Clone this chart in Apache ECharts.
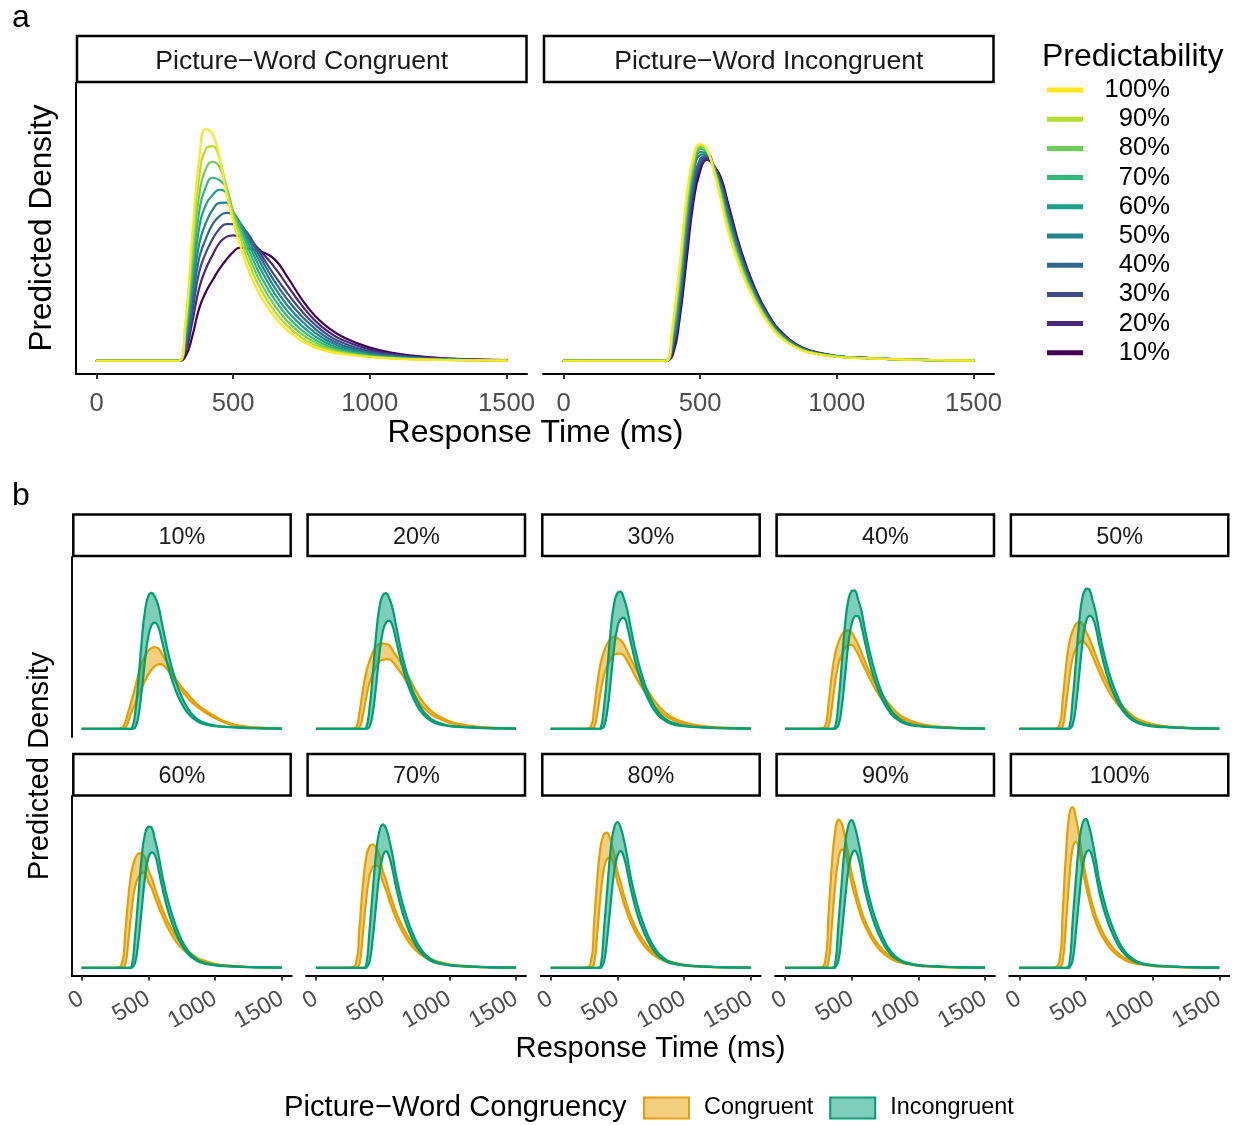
<!DOCTYPE html>
<html>
<head>
<meta charset="utf-8">
<script src="https://cdn.jsdelivr.net/npm/echarts@6/dist/echarts.min.js"></script>
<style>
  html, body { margin: 0; padding: 0; background: #ffffff; }
  #chart { width: 1234px; height: 1125px; }
</style>
</head>
<body>
<div id="chart"></div>
<script>
// Response-time grid (ms) on which every predicted density is sampled
const rtGrid = [0, 250, 300, 325, 350, 375, 400, 425, 450, 475, 500, 525, 550, 575, 600, 650, 700, 750, 800, 850, 900, 1000, 1100, 1200, 1300, 1400, 1500];
const rtTicks = [0, 500, 1000, 1500];
const predictability = ['10%', '20%', '30%', '40%', '50%', '60%', '70%', '80%', '90%', '100%'];
const congruency = ['Congruent', 'Incongruent'];
const facetTitlesA = ['Picture\u2212Word Congruent', 'Picture\u2212Word Incongruent'];
const viridis = ['#440154', '#482878', '#3E4A89', '#31688E', '#26828E', '#1F9E89', '#35B779', '#6DCD59', '#B4DE2C', '#FDE725'];

// Mean predicted density (x 1e-3 per ms), rows ordered 10% ... 100%
const congruentMean = [
  [0,0,0,0.1,0.6,1.3,1.72,2.02,2.3,2.53,2.72,2.83,2.81,2.78,2.74,2.55,2.08,1.55,1.12,0.82,0.6,0.33,0.18,0.1,0.055,0.03,0.015],
  [0,0,0,0.2,0.95,1.8,2.3,2.65,2.95,3.1,3.14,3.12,3.08,2.93,2.75,2.35,1.87,1.4,1.0,0.72,0.52,0.28,0.15,0.085,0.047,0.026,0.014],
  [0,0,0,0.28,1.2,2.2,2.7,3.05,3.3,3.42,3.42,3.35,3.22,2.95,2.68,2.15,1.68,1.25,0.9,0.63,0.45,0.23,0.13,0.07,0.04,0.022,0.012],
  [0,0,0,0.37,1.42,2.55,3.05,3.42,3.62,3.7,3.66,3.45,3.2,2.88,2.58,2.0,1.52,1.12,0.8,0.55,0.39,0.2,0.11,0.06,0.033,0.019,0.011],
  [0,0,0,0.46,1.65,2.9,3.45,3.78,3.95,3.96,3.72,3.45,3.12,2.78,2.45,1.85,1.37,1.0,0.7,0.48,0.34,0.17,0.09,0.05,0.029,0.017,0.01],
  [0,0,0,0.55,1.9,3.3,3.9,4.15,4.28,4.2,3.73,3.42,3.02,2.65,2.3,1.7,1.23,0.88,0.61,0.42,0.29,0.15,0.08,0.044,0.025,0.015,0.009],
  [0,0,0,0.65,2.2,3.7,4.35,4.58,4.52,4.32,3.72,3.35,2.9,2.5,2.13,1.55,1.1,0.77,0.53,0.36,0.25,0.13,0.07,0.038,0.022,0.013,0.008],
  [0,0,0,0.75,2.5,4.1,4.8,4.98,4.85,4.38,3.7,3.25,2.75,2.33,1.97,1.4,0.98,0.67,0.46,0.31,0.22,0.11,0.06,0.034,0.02,0.012,0.007],
  [0,0,0,0.85,2.8,4.55,5.3,5.37,5.05,4.32,3.62,3.1,2.58,2.15,1.8,1.25,0.86,0.58,0.39,0.27,0.19,0.1,0.055,0.03,0.018,0.011,0.006],
  [0,0,0,0.96,3.1,5.0,5.8,5.67,5.08,4.2,3.5,2.9,2.38,1.96,1.63,1.11,0.75,0.5,0.33,0.23,0.17,0.09,0.05,0.028,0.016,0.01,0.006]
];
const incongruentMean = [
  [0,0,0,0,0,0,0.15,1.05,2.5,3.95,4.75,5.03,4.88,4.6,4.0,2.75,1.82,1.15,0.7,0.42,0.26,0.12,0.075,0.045,0.025,0.014,0.007],
  [0,0,0,0,0,0,0.23,1.2,2.75,4.15,4.85,5.06,4.88,4.54,3.92,2.69,1.78,1.12,0.68,0.41,0.25,0.12,0.073,0.044,0.025,0.014,0.007],
  [0,0,0,0,0,0,0.32,1.35,3.0,4.3,4.95,5.1,4.87,4.48,3.83,2.63,1.74,1.1,0.66,0.4,0.24,0.115,0.072,0.043,0.024,0.013,0.007],
  [0,0,0,0,0,0,0.4,1.5,3.2,4.45,5.05,5.13,4.86,4.42,3.75,2.57,1.7,1.07,0.65,0.39,0.24,0.115,0.071,0.043,0.024,0.013,0.007],
  [0,0,0,0,0,0,0.48,1.65,3.35,4.6,5.15,5.17,4.85,4.36,3.67,2.51,1.67,1.05,0.63,0.38,0.23,0.11,0.07,0.042,0.023,0.013,0.007],
  [0,0,0,0,0,0,0.57,1.8,3.5,4.7,5.22,5.2,4.83,4.3,3.6,2.46,1.64,1.02,0.61,0.37,0.22,0.11,0.069,0.042,0.023,0.013,0.006],
  [0,0,0,0,0,0,0.66,1.95,3.65,4.8,5.3,5.22,4.82,4.24,3.52,2.4,1.6,1.0,0.6,0.36,0.22,0.11,0.068,0.041,0.023,0.012,0.006],
  [0,0,0,0,0,0,0.75,2.1,3.8,4.9,5.35,5.25,4.8,4.18,3.45,2.35,1.57,0.98,0.58,0.35,0.21,0.105,0.067,0.041,0.022,0.012,0.006],
  [0,0,0,0,0,0,0.85,2.25,3.95,5.0,5.4,5.27,4.78,4.12,3.37,2.3,1.53,0.95,0.56,0.34,0.21,0.1,0.066,0.04,0.022,0.012,0.006],
  [0,0,0,0,0,0,0.95,2.4,4.1,5.1,5.42,5.28,4.75,4.05,3.3,2.25,1.5,0.93,0.55,0.33,0.2,0.1,0.065,0.04,0.022,0.012,0.006]
];

// Credible-interval bounds of the predicted density, rows ordered 10% ... 100%
const congruentLower = [
  [0,0,0,0.02,0.3,0.7,1.0,1.35,1.65,1.95,2.2,2.4,2.53,2.61,2.62,2.35,1.95,1.57,1.22,0.97,0.76,0.43,0.2,0.09,0.045,0.022,0.01],
  [0,0,0,0.04,0.51,1.23,1.83,2.22,2.51,2.71,2.79,2.81,2.81,2.7,2.53,2.16,1.7,1.27,0.9,0.65,0.47,0.25,0.133,0.075,0.042,0.023,0.012],
  [0,0,0,0.05,0.66,1.51,2.18,2.56,2.83,2.99,3.04,3.04,2.96,2.74,2.49,1.98,1.54,1.13,0.81,0.56,0.4,0.2,0.115,0.062,0.035,0.019,0.01],
  [0,0,0,0.07,0.83,1.84,2.6,3.0,3.26,3.39,3.41,3.24,3.0,2.71,2.43,1.88,1.4,1.02,0.72,0.49,0.35,0.18,0.098,0.054,0.03,0.017,0.01],
  [0,0,0,0.08,0.95,2.05,2.86,3.25,3.48,3.56,3.42,3.24,2.93,2.61,2.3,1.72,1.26,0.91,0.63,0.43,0.3,0.15,0.08,0.045,0.026,0.015,0.009],
  [0,0,0,0.1,1.11,2.37,3.28,3.66,3.84,3.86,3.47,3.21,2.84,2.49,2.16,1.58,1.12,0.8,0.55,0.38,0.26,0.135,0.072,0.04,0.022,0.013,0.008],
  [0,0,0,0.13,1.3,2.69,3.67,4.08,4.15,4.04,3.5,3.15,2.73,2.35,2.0,1.44,1.01,0.7,0.48,0.32,0.22,0.115,0.062,0.034,0.02,0.012,0.007],
  [0,0,0,0.15,1.47,2.98,4.02,4.42,4.47,4.12,3.48,3.05,2.58,2.19,1.85,1.3,0.9,0.61,0.41,0.28,0.2,0.1,0.054,0.031,0.018,0.011,0.006],
  [0,0,0,0.18,1.62,3.27,4.38,4.79,4.67,4.06,3.4,2.91,2.43,2.02,1.69,1.17,0.79,0.53,0.35,0.24,0.17,0.09,0.05,0.027,0.016,0.01,0.005],
  [0,0,0,0.25,1.76,3.6,4.84,5.1,4.72,3.95,3.3,2.73,2.23,1.83,1.51,1.02,0.68,0.45,0.29,0.2,0.15,0.08,0.044,0.024,0.014,0.009,0.005]
];
const congruentUpper = [
  [0,0,0.03,0.25,0.7,1.15,1.65,2.2,2.65,2.95,3.15,3.27,3.31,3.25,3.05,2.57,2.07,1.68,1.38,1.07,0.85,0.5,0.24,0.12,0.06,0.03,0.015],
  [0,0,0.06,0.63,1.51,2.26,2.72,3.08,3.33,3.43,3.45,3.43,3.38,3.16,2.97,2.54,2.04,1.54,1.1,0.8,0.58,0.31,0.167,0.095,0.052,0.029,0.016],
  [0,0,0.08,0.8,1.85,2.66,3.13,3.45,3.65,3.72,3.68,3.58,3.41,3.13,2.84,2.3,1.8,1.36,0.99,0.7,0.5,0.26,0.145,0.078,0.045,0.025,0.014],
  [0,0,0.1,0.97,2.14,3.02,3.49,3.8,3.95,3.98,3.9,3.66,3.39,3.05,2.73,2.12,1.64,1.22,0.88,0.61,0.43,0.22,0.122,0.066,0.036,0.021,0.012],
  [0,0,0.13,1.16,2.49,3.48,3.96,4.23,4.33,4.25,3.94,3.66,3.31,2.95,2.6,1.98,1.48,1.09,0.77,0.53,0.37,0.19,0.1,0.055,0.032,0.019,0.011],
  [0,0,0.15,1.34,2.85,3.94,4.41,4.62,4.64,4.45,3.95,3.63,3.2,2.81,2.44,1.82,1.33,0.96,0.67,0.46,0.32,0.165,0.088,0.048,0.028,0.017,0.01],
  [0,0,0.18,1.57,3.25,4.43,4.91,5.0,4.86,4.55,3.94,3.55,3.07,2.65,2.26,1.66,1.19,0.84,0.58,0.39,0.27,0.14,0.077,0.042,0.024,0.014,0.009],
  [0,0,0.2,1.8,3.65,4.92,5.41,5.47,5.14,4.64,3.92,3.45,2.92,2.47,2.09,1.5,1.06,0.73,0.5,0.34,0.24,0.12,0.066,0.037,0.022,0.013,0.008],
  [0,0,0.22,2.03,4.08,5.47,6.0,5.83,5.3,4.58,3.84,3.29,2.73,2.28,1.91,1.34,0.94,0.64,0.43,0.3,0.21,0.11,0.061,0.033,0.02,0.012,0.007],
  [0,0,0.25,2.2,4.6,6.2,6.5,6.05,5.3,4.45,3.7,3.07,2.53,2.09,1.75,1.2,0.82,0.55,0.37,0.26,0.19,0.1,0.056,0.032,0.018,0.011,0.007]
];
const incongruentLower = [
  [0,0,0,0,0,0,0.04,0.5,1.53,2.77,3.74,4.2,4.3,4.11,3.6,2.48,1.62,1.01,0.61,0.37,0.22,0.105,0.066,0.039,0.022,0.012,0.006],
  [0,0,0,0,0,0,0.07,0.62,1.71,2.99,3.91,4.3,4.38,4.15,3.6,2.47,1.62,1.01,0.61,0.37,0.22,0.107,0.066,0.04,0.022,0.012,0.006],
  [0,0,0,0,0,0,0.1,0.74,1.93,3.23,4.1,4.45,4.5,4.12,3.52,2.4,1.58,0.99,0.59,0.36,0.21,0.103,0.065,0.039,0.022,0.012,0.006],
  [0,0,0,0,0,0,0.13,0.85,2.1,3.42,4.25,4.56,4.56,4.11,3.49,2.36,1.55,0.97,0.58,0.35,0.21,0.103,0.064,0.039,0.022,0.012,0.006],
  [0,0,0,0,0,0,0.16,0.95,2.22,3.53,4.33,4.58,4.48,4.05,3.41,2.31,1.52,0.95,0.57,0.34,0.21,0.1,0.063,0.038,0.021,0.012,0.006],
  [0,0,0,0,0,0,0.19,1.06,2.37,3.67,4.44,4.67,4.55,4.0,3.35,2.26,1.49,0.92,0.55,0.33,0.2,0.1,0.062,0.038,0.021,0.012,0.005],
  [0,0,0,0,0,0,0.22,1.16,2.49,3.76,4.49,4.72,4.48,3.94,3.27,2.21,1.46,0.9,0.54,0.32,0.2,0.1,0.061,0.037,0.021,0.011,0.005],
  [0,0,0,0,0,0,0.24,1.26,2.6,3.84,4.52,4.72,4.46,3.89,3.21,2.16,1.43,0.88,0.52,0.31,0.19,0.094,0.06,0.037,0.02,0.011,0.005],
  [0,0,0,0,0,0,0.27,1.37,2.73,3.94,4.58,4.75,4.45,3.83,3.13,2.12,1.39,0.86,0.5,0.31,0.19,0.09,0.059,0.036,0.02,0.011,0.005],
  [0,0,0,0,0,0,0.3,1.48,2.87,4.06,4.64,4.76,4.42,3.77,3.07,2.07,1.37,0.84,0.5,0.3,0.18,0.09,0.058,0.036,0.02,0.011,0.005]
];
const incongruentUpper = [
  [0,0,0,0,0,0.01,0.6,1.95,3.55,4.78,5.38,5.5,5.32,4.97,4.32,3.03,2.04,1.29,0.79,0.47,0.29,0.135,0.083,0.05,0.028,0.015,0.008],
  [0,0,0,0,0,0.02,0.78,2.15,3.76,4.9,5.4,5.49,5.27,4.86,4.19,2.9,1.94,1.23,0.75,0.45,0.28,0.132,0.08,0.048,0.027,0.015,0.008],
  [0,0,0,0,0,0.03,0.91,2.38,3.99,5.05,5.49,5.55,5.26,4.79,4.1,2.84,1.9,1.21,0.73,0.44,0.27,0.127,0.079,0.047,0.026,0.014,0.008],
  [0,0,0,0,0,0.04,1.04,2.58,4.2,5.21,5.58,5.6,5.2,4.73,4.01,2.78,1.85,1.18,0.72,0.43,0.26,0.127,0.078,0.047,0.026,0.014,0.008],
  [0,0,0,0,0,0.05,1.17,2.74,4.36,5.35,5.67,5.64,5.19,4.67,3.93,2.71,1.82,1.16,0.69,0.42,0.25,0.12,0.077,0.046,0.025,0.014,0.008],
  [0,0,0,0,0,0.06,1.29,2.89,4.48,5.42,5.71,5.67,5.17,4.6,3.85,2.66,1.79,1.12,0.67,0.41,0.24,0.12,0.076,0.046,0.025,0.014,0.007],
  [0,0,0,0,0,0.07,1.43,3.06,4.62,5.52,5.8,5.64,5.16,4.54,3.77,2.59,1.74,1.1,0.66,0.4,0.24,0.12,0.075,0.045,0.025,0.013,0.007],
  [0,0,0,0,0,0.08,1.57,3.25,4.8,5.65,5.9,5.67,5.14,4.47,3.69,2.54,1.71,1.08,0.64,0.39,0.23,0.116,0.074,0.045,0.024,0.013,0.007],
  [0,0,0,0,0,0.1,1.72,3.43,4.95,5.76,5.98,5.68,5.11,4.41,3.61,2.48,1.67,1.04,0.62,0.37,0.23,0.11,0.073,0.044,0.024,0.013,0.007],
  [0,0,0,0,0,0.12,1.87,3.62,5.12,5.86,6.02,5.68,5.08,4.33,3.53,2.43,1.64,1.02,0.61,0.37,0.22,0.11,0.072,0.044,0.024,0.013,0.007]
];

// ---- styling and layout ----
const FONT = '"Liberation Sans", Arial, Helvetica, sans-serif';
const orangeLine = '#E69F00', orangeFill = 'rgba(230,159,0,0.5)';
const greenLine = '#009E73', greenFill = 'rgba(0,158,115,0.5)';
const densityMin = -0.331, densityMax = 6.951;   // 5% padding around 0 .. 6.62
const rtMin = -75, rtMax = 1575;                 // 5% padding around 0 .. 1500
const plainNumber = function (v) { return String(v); };

const gridsA = [
  { left: 76, top: 83, width: 451, height: 291 },
  { left: 543, top: 83, width: 451, height: 291 }
];
const colLeftB = [71.7, 306, 540.7, 775, 1009.3];
const rowTopB = [557, 796];
const facetWB = 220, facetHB = 180;

const grids = [], xAxes = [], yAxes = [], series = [], graphics = [];

function txt(text, x, y, size, extra) {
  extra = extra || {};
  const el = {
    type: 'text', x: x, y: y, silent: true,
    style: {
      text: text, fill: extra.color || '#000000', fontSize: size, fontFamily: FONT,
      align: extra.align || 'center', verticalAlign: 'middle',
      textAlign: extra.align || 'center', textVerticalAlign: 'middle'
    }
  };
  if (extra.rotation) el.rotation = extra.rotation;
  return el;
}
function strip(x, y, w, h, label, size, dy) {
  graphics.push({ type: 'rect', silent: true, shape: { x: x, y: y, width: w, height: h },
    style: { fill: '#ffffff', stroke: '#000000', lineWidth: 2.5 } });
  graphics.push(txt(label, x + w / 2, y + h / 2 + dy, size, { color: '#1A1A1A' }));
}

// ---- panel a: two facets of mean densities ----
gridsA.forEach(function (g, k) {
  grids.push(g);
  xAxes.push({
    type: 'value', gridIndex: k, min: rtMin, max: rtMax,
    axisLine: { show: true, onZero: false, lineStyle: { color: '#000000', width: 2 } },
    axisTick: { show: true, length: 5, customValues: rtTicks, lineStyle: { color: '#333333', width: 2 } },
    axisLabel: { show: true, customValues: rtTicks, formatter: plainNumber, color: '#4D4D4D', fontSize: 25.6, fontFamily: FONT, margin: 17 },
    splitLine: { show: false }
  });
  yAxes.push({
    type: 'value', gridIndex: k, min: densityMin, max: densityMax,
    axisLine: { show: k === 0, onZero: false, lineStyle: { color: '#000000', width: 2 } },
    axisTick: { show: false }, axisLabel: { show: false }, splitLine: { show: false }
  });
  strip(g.left + 1, 36, g.width - 1.5, 46, facetTitlesA[k], 26.6, 2.5);
});

predictability.forEach(function (p, i) {
  [congruentMean, incongruentMean].forEach(function (table, k) {
    series.push({
      type: 'line', name: p, xAxisIndex: k, yAxisIndex: k,
      data: rtGrid.map(function (x, j) { return [x, table[i][j]]; }),
      smooth: true, symbol: 'none', showSymbol: false, silent: true,
      lineStyle: { color: viridis[i], width: 2.2, cap: 'round', join: 'round' },
      itemStyle: { color: viridis[i] },
      emphasis: { disabled: true }
    });
  });
});

// ---- panel b: ten facets of credible ribbons ----
function ribbon(name, gi, lower, upper, lineColor, fillColor) {
  const bbox = [[Infinity, Infinity], [-Infinity, -Infinity]];
  return {
    type: 'custom', name: name, coordinateSystem: 'cartesian2d',
    xAxisIndex: gi, yAxisIndex: gi, data: [[0, 0]], silent: true,
    itemStyle: { color: fillColor, borderColor: lineColor },
    renderItem: function (params, api) {
      const up = rtGrid.map(function (x, j) { return api.coord([x, upper[j]]); });
      const lo = rtGrid.map(function (x, j) { return api.coord([x, lower[j]]); });
      return {
        type: 'group',
        children: [
          { type: 'polygon', shape: { points: up.concat(lo.slice().reverse()), smooth: 0.5, smoothConstraint: bbox },
            style: { fill: fillColor, stroke: 'none' } },
          { type: 'polyline', shape: { points: lo, smooth: 0.5, smoothConstraint: bbox },
            style: { fill: 'none', stroke: lineColor, lineWidth: 2.2, lineJoin: 'round' } },
          { type: 'polyline', shape: { points: up, smooth: 0.5, smoothConstraint: bbox },
            style: { fill: 'none', stroke: lineColor, lineWidth: 2.2, lineJoin: 'round' } }
        ]
      };
    }
  };
}

predictability.forEach(function (p, i) {
  const row = i < 5 ? 0 : 1, col = i % 5, gi = 2 + i;
  const left = colLeftB[col], top = rowTopB[row];
  grids.push({ left: left, top: top, width: facetWB, height: facetHB });
  xAxes.push({
    type: 'value', gridIndex: gi, min: rtMin, max: rtMax, show: row === 1,
    axisLine: { show: true, onZero: false, lineStyle: { color: '#000000', width: 1.9 } },
    axisTick: { show: true, length: 4.5, customValues: rtTicks, lineStyle: { color: '#333333', width: 1.9 } },
    axisLabel: { show: true, customValues: rtTicks, formatter: plainNumber, rotate: 30, color: '#4D4D4D', fontSize: 23.4, fontFamily: FONT, margin: 21 },
    splitLine: { show: false }
  });
  yAxes.push({
    type: 'value', gridIndex: gi, min: densityMin, max: densityMax,
    axisLine: { show: col === 0, onZero: false, lineStyle: { color: '#000000', width: 1.9 } },
    axisTick: { show: false }, axisLabel: { show: false }, splitLine: { show: false }
  });
  series.push(ribbon(congruency[0], gi, congruentLower[i], congruentUpper[i], orangeLine, orangeFill));
  series.push(ribbon(congruency[1], gi, incongruentLower[i], incongruentUpper[i], greenLine, greenFill));
  strip(left + 1.6, row === 0 ? 514.5 : 754, facetWB - 2.6, 41.5, p, 23.4, 2);
});

// ---- titles and panel letters ----
graphics.push(txt('a', 21, 18, 32));
graphics.push(txt('b', 21, 496, 32));
graphics.push(txt('Response Time (ms)', 535.5, 433, 32));
graphics.push(txt('Predicted Density', 42, 228, 31.5, { rotation: Math.PI / 2 }));
graphics.push(txt('Predictability', 1042, 57, 32, { align: 'left' }));
graphics.push(txt('Response Time (ms)', 650.5, 1049, 29.2));
graphics.push(txt('Predicted Density', 40, 766, 29.2, { rotation: Math.PI / 2 }));
graphics.push(txt('Picture\u2212Word Congruency', 284, 1108, 29.2, { align: 'left' }));

const legendA = {
  orient: 'vertical', left: 1047, top: 77, padding: 0, itemWidth: 36, itemHeight: 5, itemGap: 3.2,
  icon: 'rect', selectedMode: false,
  data: predictability.slice().reverse().map(function (p) {
    return { name: p, itemStyle: { color: viridis[predictability.indexOf(p)], borderWidth: 0 } };
  }),
  formatter: function (n) { return '{r|' + n + '}'; },
  textStyle: {
    fontFamily: FONT, fontSize: 25.6, color: '#000000', lineHeight: 26,
    rich: { r: { width: 82, align: 'right', fontFamily: FONT, fontSize: 25.6, lineHeight: 26, color: '#000000' } }
  }
};
const legendB = {
  orient: 'horizontal', left: 643, top: 1096, padding: 0, itemWidth: 45, itemHeight: 21, itemGap: 16,
  icon: 'rect', selectedMode: false,
  data: [
    { name: congruency[0], itemStyle: { color: orangeFill, borderColor: orangeLine, borderWidth: 2 } },
    { name: congruency[1], itemStyle: { color: greenFill, borderColor: greenLine, borderWidth: 2 } }
  ],
  textStyle: { fontFamily: FONT, fontSize: 23.4, color: '#000000', lineHeight: 24, padding: [0, 0, 0, 10] }
};

const chart = echarts.init(document.getElementById('chart'), null, { renderer: 'canvas' });
chart.setOption({
  animation: false,
  backgroundColor: '#ffffff',
  textStyle: { fontFamily: FONT },
  grid: grids,
  xAxis: xAxes,
  yAxis: yAxes,
  legend: [legendA, legendB],
  series: series,
  graphic: { elements: graphics }
});
</script>
</body>
</html>
